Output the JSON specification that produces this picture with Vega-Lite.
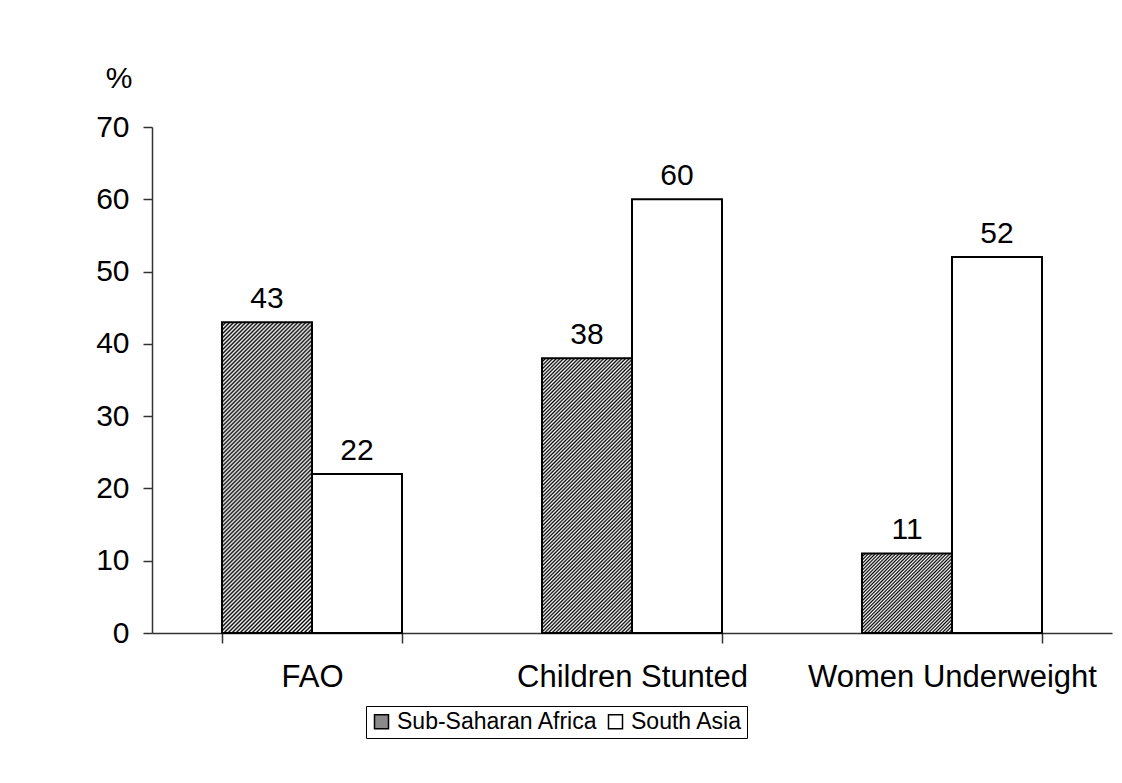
{
  "$schema": "https://vega.github.io/schema/vega-lite/v6.json",
  "width": 960,
  "height": 506,
  "autosize": {"type": "none"},
  "padding": {"left": 152, "top": 127, "right": 10, "bottom": 150},
  "background": "white",
  "config": {"view": {"stroke": null}, "font": "Liberation Sans"},
  "data": {
    "values": [
      {"cat": "FAO", "series": "Sub-Saharan Africa", "value": 43},
      {"cat": "FAO", "series": "South Asia", "value": 22},
      {"cat": "Children Stunted", "series": "Sub-Saharan Africa", "value": 38},
      {"cat": "Children Stunted", "series": "South Asia", "value": 60},
      {"cat": "Women Underweight", "series": "Sub-Saharan Africa", "value": 11},
      {"cat": "Women Underweight", "series": "South Asia", "value": 52}
    ]
  },
  "encoding": {
    "x": {
      "field": "cat", "type": "nominal",
      "sort": ["FAO", "Children Stunted", "Women Underweight"],
      "scale": {"paddingInner": 0.4375, "paddingOuter": 0.21875},
      "axis": {"title": null, "labelAngle": 0, "labelFontSize": 31, "labelLimit": 0, "labelColor": "black", "labelPadding": 19, "tickBand": "extent", "tickSize": 10, "domainColor": "#333", "tickColor": "#333", "domainWidth": 1.5, "tickWidth": 1.5, "labelFont": "Liberation Sans"}
    },
    "xOffset": {
      "field": "series", "type": "nominal",
      "sort": ["Sub-Saharan Africa", "South Asia"],
      "scale": {"paddingInner": 0, "paddingOuter": 0}
    },
    "y": {
      "field": "value", "type": "quantitative",
      "scale": {"domain": [0, 70], "nice": false},
      "axis": {"title": "%", "titleAngle": 0, "titleX": -20, "titleY": -40, "titleAlign": "right", "titleBaseline": "alphabetic", "titleFontSize": 30, "titleFontWeight": "normal", "titleColor": "black", "titleFont": "Liberation Sans", "labelFontSize": 30, "labelColor": "black", "labelPadding": 14, "tickSize": 9, "values": [0, 10, 20, 30, 40, 50, 60, 70], "grid": false, "domainColor": "#333", "tickColor": "#333", "domainWidth": 1.5, "tickWidth": 1.5, "labelFont": "Liberation Sans"}
    }
  },
  "layer": [
    {
      "mark": {"type": "bar", "stroke": "black", "strokeWidth": 2},
      "encoding": {
        "fill": {
          "field": "series", "type": "nominal",
          "scale": {"domain": ["Sub-Saharan Africa", "South Asia"], "range": ["#8a8a8a", "white"]},
          "condition": [
            {"test": "datum.series === 'Sub-Saharan Africa' && datum.cat === 'FAO'", "value": {"gradient": "linear", "x1": 0, "y1": 0, "x2": 0.3445, "y2": 1.1898, "stops": [
{"offset":0,"color":"#000"},{"offset":0.005,"color":"#fff"},{"offset":0.01,"color":"#000"},{"offset":0.015,"color":"#fff"},{"offset":0.02,"color":"#000"},{"offset":0.025,"color":"#fff"},{"offset":0.03,"color":"#000"},{"offset":0.035,"color":"#fff"},{"offset":0.04,"color":"#000"},{"offset":0.045,"color":"#fff"},
{"offset":0.05,"color":"#000"},{"offset":0.055,"color":"#fff"},{"offset":0.06,"color":"#000"},{"offset":0.065,"color":"#fff"},{"offset":0.07,"color":"#000"},{"offset":0.075,"color":"#fff"},{"offset":0.08,"color":"#000"},{"offset":0.085,"color":"#fff"},{"offset":0.09,"color":"#000"},{"offset":0.095,"color":"#fff"},
{"offset":0.1,"color":"#000"},{"offset":0.105,"color":"#fff"},{"offset":0.11,"color":"#000"},{"offset":0.115,"color":"#fff"},{"offset":0.12,"color":"#000"},{"offset":0.125,"color":"#fff"},{"offset":0.13,"color":"#000"},{"offset":0.135,"color":"#fff"},{"offset":0.14,"color":"#000"},{"offset":0.145,"color":"#fff"},
{"offset":0.15,"color":"#000"},{"offset":0.155,"color":"#fff"},{"offset":0.16,"color":"#000"},{"offset":0.165,"color":"#fff"},{"offset":0.17,"color":"#000"},{"offset":0.175,"color":"#fff"},{"offset":0.18,"color":"#000"},{"offset":0.185,"color":"#fff"},{"offset":0.19,"color":"#000"},{"offset":0.195,"color":"#fff"},
{"offset":0.2,"color":"#000"},{"offset":0.205,"color":"#fff"},{"offset":0.21,"color":"#000"},{"offset":0.215,"color":"#fff"},{"offset":0.22,"color":"#000"},{"offset":0.225,"color":"#fff"},{"offset":0.23,"color":"#000"},{"offset":0.235,"color":"#fff"},{"offset":0.24,"color":"#000"},{"offset":0.245,"color":"#fff"},
{"offset":0.25,"color":"#000"},{"offset":0.255,"color":"#fff"},{"offset":0.26,"color":"#000"},{"offset":0.265,"color":"#fff"},{"offset":0.27,"color":"#000"},{"offset":0.275,"color":"#fff"},{"offset":0.28,"color":"#000"},{"offset":0.285,"color":"#fff"},{"offset":0.29,"color":"#000"},{"offset":0.295,"color":"#fff"},
{"offset":0.3,"color":"#000"},{"offset":0.305,"color":"#fff"},{"offset":0.31,"color":"#000"},{"offset":0.315,"color":"#fff"},{"offset":0.32,"color":"#000"},{"offset":0.325,"color":"#fff"},{"offset":0.33,"color":"#000"},{"offset":0.335,"color":"#fff"},{"offset":0.34,"color":"#000"},{"offset":0.345,"color":"#fff"},
{"offset":0.35,"color":"#000"},{"offset":0.355,"color":"#fff"},{"offset":0.36,"color":"#000"},{"offset":0.365,"color":"#fff"},{"offset":0.37,"color":"#000"},{"offset":0.375,"color":"#fff"},{"offset":0.38,"color":"#000"},{"offset":0.385,"color":"#fff"},{"offset":0.39,"color":"#000"},{"offset":0.395,"color":"#fff"},
{"offset":0.4,"color":"#000"},{"offset":0.405,"color":"#fff"},{"offset":0.41,"color":"#000"},{"offset":0.415,"color":"#fff"},{"offset":0.42,"color":"#000"},{"offset":0.425,"color":"#fff"},{"offset":0.43,"color":"#000"},{"offset":0.435,"color":"#fff"},{"offset":0.44,"color":"#000"},{"offset":0.445,"color":"#fff"},
{"offset":0.45,"color":"#000"},{"offset":0.455,"color":"#fff"},{"offset":0.46,"color":"#000"},{"offset":0.465,"color":"#fff"},{"offset":0.47,"color":"#000"},{"offset":0.475,"color":"#fff"},{"offset":0.48,"color":"#000"},{"offset":0.485,"color":"#fff"},{"offset":0.49,"color":"#000"},{"offset":0.495,"color":"#fff"},
{"offset":0.5,"color":"#000"},{"offset":0.505,"color":"#fff"},{"offset":0.51,"color":"#000"},{"offset":0.515,"color":"#fff"},{"offset":0.52,"color":"#000"},{"offset":0.525,"color":"#fff"},{"offset":0.53,"color":"#000"},{"offset":0.535,"color":"#fff"},{"offset":0.54,"color":"#000"},{"offset":0.545,"color":"#fff"},
{"offset":0.55,"color":"#000"},{"offset":0.555,"color":"#fff"},{"offset":0.56,"color":"#000"},{"offset":0.565,"color":"#fff"},{"offset":0.57,"color":"#000"},{"offset":0.575,"color":"#fff"},{"offset":0.58,"color":"#000"},{"offset":0.585,"color":"#fff"},{"offset":0.59,"color":"#000"},{"offset":0.595,"color":"#fff"},
{"offset":0.6,"color":"#000"},{"offset":0.605,"color":"#fff"},{"offset":0.61,"color":"#000"},{"offset":0.615,"color":"#fff"},{"offset":0.62,"color":"#000"},{"offset":0.625,"color":"#fff"},{"offset":0.63,"color":"#000"},{"offset":0.635,"color":"#fff"},{"offset":0.64,"color":"#000"},{"offset":0.645,"color":"#fff"},
{"offset":0.65,"color":"#000"},{"offset":0.655,"color":"#fff"},{"offset":0.66,"color":"#000"},{"offset":0.665,"color":"#fff"},{"offset":0.67,"color":"#000"},{"offset":0.675,"color":"#fff"},{"offset":0.68,"color":"#000"},{"offset":0.685,"color":"#fff"},{"offset":0.69,"color":"#000"},{"offset":0.695,"color":"#fff"},
{"offset":0.7,"color":"#000"},{"offset":0.705,"color":"#fff"},{"offset":0.71,"color":"#000"},{"offset":0.715,"color":"#fff"},{"offset":0.72,"color":"#000"},{"offset":0.725,"color":"#fff"},{"offset":0.73,"color":"#000"},{"offset":0.735,"color":"#fff"},{"offset":0.74,"color":"#000"},{"offset":0.745,"color":"#fff"},
{"offset":0.75,"color":"#000"},{"offset":0.755,"color":"#fff"},{"offset":0.76,"color":"#000"},{"offset":0.765,"color":"#fff"},{"offset":0.77,"color":"#000"},{"offset":0.775,"color":"#fff"},{"offset":0.78,"color":"#000"},{"offset":0.785,"color":"#fff"},{"offset":0.79,"color":"#000"},{"offset":0.795,"color":"#fff"},
{"offset":0.8,"color":"#000"},{"offset":0.805,"color":"#fff"},{"offset":0.81,"color":"#000"},{"offset":0.815,"color":"#fff"},{"offset":0.82,"color":"#000"},{"offset":0.825,"color":"#fff"},{"offset":0.83,"color":"#000"},{"offset":0.835,"color":"#fff"},{"offset":0.84,"color":"#000"},{"offset":0.845,"color":"#fff"},
{"offset":0.85,"color":"#000"},{"offset":0.855,"color":"#fff"},{"offset":0.86,"color":"#000"},{"offset":0.865,"color":"#fff"},{"offset":0.87,"color":"#000"},{"offset":0.875,"color":"#fff"},{"offset":0.88,"color":"#000"},{"offset":0.885,"color":"#fff"},{"offset":0.89,"color":"#000"},{"offset":0.895,"color":"#fff"},
{"offset":0.9,"color":"#000"},{"offset":0.905,"color":"#fff"},{"offset":0.91,"color":"#000"},{"offset":0.915,"color":"#fff"},{"offset":0.92,"color":"#000"},{"offset":0.925,"color":"#fff"},{"offset":0.93,"color":"#000"},{"offset":0.935,"color":"#fff"},{"offset":0.94,"color":"#000"},{"offset":0.945,"color":"#fff"},
{"offset":0.95,"color":"#000"},{"offset":0.955,"color":"#fff"},{"offset":0.96,"color":"#000"},{"offset":0.965,"color":"#fff"},{"offset":0.97,"color":"#000"},{"offset":0.975,"color":"#fff"},{"offset":0.98,"color":"#000"},{"offset":0.985,"color":"#fff"},{"offset":0.99,"color":"#000"},{"offset":0.995,"color":"#fff"},
{"offset":1,"color":"#000"}]}},
            {"test": "datum.series === 'Sub-Saharan Africa' && datum.cat === 'Children Stunted'", "value": {"gradient": "linear", "x1": 0, "y1": 0, "x2": 0.3928, "y2": 1.1989, "stops": [
{"offset":0,"color":"#000"},{"offset":0.005,"color":"#fff"},{"offset":0.01,"color":"#000"},{"offset":0.015,"color":"#fff"},{"offset":0.02,"color":"#000"},{"offset":0.025,"color":"#fff"},{"offset":0.03,"color":"#000"},{"offset":0.035,"color":"#fff"},{"offset":0.04,"color":"#000"},{"offset":0.045,"color":"#fff"},
{"offset":0.05,"color":"#000"},{"offset":0.055,"color":"#fff"},{"offset":0.06,"color":"#000"},{"offset":0.065,"color":"#fff"},{"offset":0.07,"color":"#000"},{"offset":0.075,"color":"#fff"},{"offset":0.08,"color":"#000"},{"offset":0.085,"color":"#fff"},{"offset":0.09,"color":"#000"},{"offset":0.095,"color":"#fff"},
{"offset":0.1,"color":"#000"},{"offset":0.105,"color":"#fff"},{"offset":0.11,"color":"#000"},{"offset":0.115,"color":"#fff"},{"offset":0.12,"color":"#000"},{"offset":0.125,"color":"#fff"},{"offset":0.13,"color":"#000"},{"offset":0.135,"color":"#fff"},{"offset":0.14,"color":"#000"},{"offset":0.145,"color":"#fff"},
{"offset":0.15,"color":"#000"},{"offset":0.155,"color":"#fff"},{"offset":0.16,"color":"#000"},{"offset":0.165,"color":"#fff"},{"offset":0.17,"color":"#000"},{"offset":0.175,"color":"#fff"},{"offset":0.18,"color":"#000"},{"offset":0.185,"color":"#fff"},{"offset":0.19,"color":"#000"},{"offset":0.195,"color":"#fff"},
{"offset":0.2,"color":"#000"},{"offset":0.205,"color":"#fff"},{"offset":0.21,"color":"#000"},{"offset":0.215,"color":"#fff"},{"offset":0.22,"color":"#000"},{"offset":0.225,"color":"#fff"},{"offset":0.23,"color":"#000"},{"offset":0.235,"color":"#fff"},{"offset":0.24,"color":"#000"},{"offset":0.245,"color":"#fff"},
{"offset":0.25,"color":"#000"},{"offset":0.255,"color":"#fff"},{"offset":0.26,"color":"#000"},{"offset":0.265,"color":"#fff"},{"offset":0.27,"color":"#000"},{"offset":0.275,"color":"#fff"},{"offset":0.28,"color":"#000"},{"offset":0.285,"color":"#fff"},{"offset":0.29,"color":"#000"},{"offset":0.295,"color":"#fff"},
{"offset":0.3,"color":"#000"},{"offset":0.305,"color":"#fff"},{"offset":0.31,"color":"#000"},{"offset":0.315,"color":"#fff"},{"offset":0.32,"color":"#000"},{"offset":0.325,"color":"#fff"},{"offset":0.33,"color":"#000"},{"offset":0.335,"color":"#fff"},{"offset":0.34,"color":"#000"},{"offset":0.345,"color":"#fff"},
{"offset":0.35,"color":"#000"},{"offset":0.355,"color":"#fff"},{"offset":0.36,"color":"#000"},{"offset":0.365,"color":"#fff"},{"offset":0.37,"color":"#000"},{"offset":0.375,"color":"#fff"},{"offset":0.38,"color":"#000"},{"offset":0.385,"color":"#fff"},{"offset":0.39,"color":"#000"},{"offset":0.395,"color":"#fff"},
{"offset":0.4,"color":"#000"},{"offset":0.405,"color":"#fff"},{"offset":0.41,"color":"#000"},{"offset":0.415,"color":"#fff"},{"offset":0.42,"color":"#000"},{"offset":0.425,"color":"#fff"},{"offset":0.43,"color":"#000"},{"offset":0.435,"color":"#fff"},{"offset":0.44,"color":"#000"},{"offset":0.445,"color":"#fff"},
{"offset":0.45,"color":"#000"},{"offset":0.455,"color":"#fff"},{"offset":0.46,"color":"#000"},{"offset":0.465,"color":"#fff"},{"offset":0.47,"color":"#000"},{"offset":0.475,"color":"#fff"},{"offset":0.48,"color":"#000"},{"offset":0.485,"color":"#fff"},{"offset":0.49,"color":"#000"},{"offset":0.495,"color":"#fff"},
{"offset":0.5,"color":"#000"},{"offset":0.505,"color":"#fff"},{"offset":0.51,"color":"#000"},{"offset":0.515,"color":"#fff"},{"offset":0.52,"color":"#000"},{"offset":0.525,"color":"#fff"},{"offset":0.53,"color":"#000"},{"offset":0.535,"color":"#fff"},{"offset":0.54,"color":"#000"},{"offset":0.545,"color":"#fff"},
{"offset":0.55,"color":"#000"},{"offset":0.555,"color":"#fff"},{"offset":0.56,"color":"#000"},{"offset":0.565,"color":"#fff"},{"offset":0.57,"color":"#000"},{"offset":0.575,"color":"#fff"},{"offset":0.58,"color":"#000"},{"offset":0.585,"color":"#fff"},{"offset":0.59,"color":"#000"},{"offset":0.595,"color":"#fff"},
{"offset":0.6,"color":"#000"},{"offset":0.605,"color":"#fff"},{"offset":0.61,"color":"#000"},{"offset":0.615,"color":"#fff"},{"offset":0.62,"color":"#000"},{"offset":0.625,"color":"#fff"},{"offset":0.63,"color":"#000"},{"offset":0.635,"color":"#fff"},{"offset":0.64,"color":"#000"},{"offset":0.645,"color":"#fff"},
{"offset":0.65,"color":"#000"},{"offset":0.655,"color":"#fff"},{"offset":0.66,"color":"#000"},{"offset":0.665,"color":"#fff"},{"offset":0.67,"color":"#000"},{"offset":0.675,"color":"#fff"},{"offset":0.68,"color":"#000"},{"offset":0.685,"color":"#fff"},{"offset":0.69,"color":"#000"},{"offset":0.695,"color":"#fff"},
{"offset":0.7,"color":"#000"},{"offset":0.705,"color":"#fff"},{"offset":0.71,"color":"#000"},{"offset":0.715,"color":"#fff"},{"offset":0.72,"color":"#000"},{"offset":0.725,"color":"#fff"},{"offset":0.73,"color":"#000"},{"offset":0.735,"color":"#fff"},{"offset":0.74,"color":"#000"},{"offset":0.745,"color":"#fff"},
{"offset":0.75,"color":"#000"},{"offset":0.755,"color":"#fff"},{"offset":0.76,"color":"#000"},{"offset":0.765,"color":"#fff"},{"offset":0.77,"color":"#000"},{"offset":0.775,"color":"#fff"},{"offset":0.78,"color":"#000"},{"offset":0.785,"color":"#fff"},{"offset":0.79,"color":"#000"},{"offset":0.795,"color":"#fff"},
{"offset":0.8,"color":"#000"},{"offset":0.805,"color":"#fff"},{"offset":0.81,"color":"#000"},{"offset":0.815,"color":"#fff"},{"offset":0.82,"color":"#000"},{"offset":0.825,"color":"#fff"},{"offset":0.83,"color":"#000"},{"offset":0.835,"color":"#fff"},{"offset":0.84,"color":"#000"},{"offset":0.845,"color":"#fff"},
{"offset":0.85,"color":"#000"},{"offset":0.855,"color":"#fff"},{"offset":0.86,"color":"#000"},{"offset":0.865,"color":"#fff"},{"offset":0.87,"color":"#000"},{"offset":0.875,"color":"#fff"},{"offset":0.88,"color":"#000"},{"offset":0.885,"color":"#fff"},{"offset":0.89,"color":"#000"},{"offset":0.895,"color":"#fff"},
{"offset":0.9,"color":"#000"},{"offset":0.905,"color":"#fff"},{"offset":0.91,"color":"#000"},{"offset":0.915,"color":"#fff"},{"offset":0.92,"color":"#000"},{"offset":0.925,"color":"#fff"},{"offset":0.93,"color":"#000"},{"offset":0.935,"color":"#fff"},{"offset":0.94,"color":"#000"},{"offset":0.945,"color":"#fff"},
{"offset":0.95,"color":"#000"},{"offset":0.955,"color":"#fff"},{"offset":0.96,"color":"#000"},{"offset":0.965,"color":"#fff"},{"offset":0.97,"color":"#000"},{"offset":0.975,"color":"#fff"},{"offset":0.98,"color":"#000"},{"offset":0.985,"color":"#fff"},{"offset":0.99,"color":"#000"},{"offset":0.995,"color":"#fff"},
{"offset":1,"color":"#000"}]}},
            {"test": "datum.series === 'Sub-Saharan Africa' && datum.cat === 'Women Underweight'", "value": {"gradient": "linear", "x1": 0, "y1": 0, "x2": 1.0579, "y2": 0.9345, "stops": [
{"offset":0,"color":"#000"},{"offset":0.01,"color":"#fff"},{"offset":0.02,"color":"#000"},{"offset":0.03,"color":"#fff"},{"offset":0.04,"color":"#000"},{"offset":0.05,"color":"#fff"},{"offset":0.06,"color":"#000"},{"offset":0.07,"color":"#fff"},{"offset":0.08,"color":"#000"},{"offset":0.09,"color":"#fff"},
{"offset":0.1,"color":"#000"},{"offset":0.11,"color":"#fff"},{"offset":0.12,"color":"#000"},{"offset":0.13,"color":"#fff"},{"offset":0.14,"color":"#000"},{"offset":0.15,"color":"#fff"},{"offset":0.16,"color":"#000"},{"offset":0.17,"color":"#fff"},{"offset":0.18,"color":"#000"},{"offset":0.19,"color":"#fff"},
{"offset":0.2,"color":"#000"},{"offset":0.21,"color":"#fff"},{"offset":0.22,"color":"#000"},{"offset":0.23,"color":"#fff"},{"offset":0.24,"color":"#000"},{"offset":0.25,"color":"#fff"},{"offset":0.26,"color":"#000"},{"offset":0.27,"color":"#fff"},{"offset":0.28,"color":"#000"},{"offset":0.29,"color":"#fff"},
{"offset":0.3,"color":"#000"},{"offset":0.31,"color":"#fff"},{"offset":0.32,"color":"#000"},{"offset":0.33,"color":"#fff"},{"offset":0.34,"color":"#000"},{"offset":0.35,"color":"#fff"},{"offset":0.36,"color":"#000"},{"offset":0.37,"color":"#fff"},{"offset":0.38,"color":"#000"},{"offset":0.39,"color":"#fff"},
{"offset":0.4,"color":"#000"},{"offset":0.41,"color":"#fff"},{"offset":0.42,"color":"#000"},{"offset":0.43,"color":"#fff"},{"offset":0.44,"color":"#000"},{"offset":0.45,"color":"#fff"},{"offset":0.46,"color":"#000"},{"offset":0.47,"color":"#fff"},{"offset":0.48,"color":"#000"},{"offset":0.49,"color":"#fff"},
{"offset":0.5,"color":"#000"},{"offset":0.51,"color":"#fff"},{"offset":0.52,"color":"#000"},{"offset":0.53,"color":"#fff"},{"offset":0.54,"color":"#000"},{"offset":0.55,"color":"#fff"},{"offset":0.56,"color":"#000"},{"offset":0.57,"color":"#fff"},{"offset":0.58,"color":"#000"},{"offset":0.59,"color":"#fff"},
{"offset":0.6,"color":"#000"},{"offset":0.61,"color":"#fff"},{"offset":0.62,"color":"#000"},{"offset":0.63,"color":"#fff"},{"offset":0.64,"color":"#000"},{"offset":0.65,"color":"#fff"},{"offset":0.66,"color":"#000"},{"offset":0.67,"color":"#fff"},{"offset":0.68,"color":"#000"},{"offset":0.69,"color":"#fff"},
{"offset":0.7,"color":"#000"},{"offset":0.71,"color":"#fff"},{"offset":0.72,"color":"#000"},{"offset":0.73,"color":"#fff"},{"offset":0.74,"color":"#000"},{"offset":0.75,"color":"#fff"},{"offset":0.76,"color":"#000"},{"offset":0.77,"color":"#fff"},{"offset":0.78,"color":"#000"},{"offset":0.79,"color":"#fff"},
{"offset":0.8,"color":"#000"},{"offset":0.81,"color":"#fff"},{"offset":0.82,"color":"#000"},{"offset":0.83,"color":"#fff"},{"offset":0.84,"color":"#000"},{"offset":0.85,"color":"#fff"},{"offset":0.86,"color":"#000"},{"offset":0.87,"color":"#fff"},{"offset":0.88,"color":"#000"},{"offset":0.89,"color":"#fff"},
{"offset":0.9,"color":"#000"},{"offset":0.91,"color":"#fff"},{"offset":0.92,"color":"#000"},{"offset":0.93,"color":"#fff"},{"offset":0.94,"color":"#000"},{"offset":0.95,"color":"#fff"},{"offset":0.96,"color":"#000"},{"offset":0.97,"color":"#fff"},{"offset":0.98,"color":"#000"},{"offset":0.99,"color":"#fff"},
{"offset":1,"color":"#000"}]}}
          ],
          "legend": {
            "orient": "none", "legendX": 214, "legendY": 579, "direction": "horizontal", "title": null,
            "labelFontSize": 23, "labelLimit": 0, "labelColor": "black", "labelFont": "Liberation Sans",
            "symbolType": "square", "symbolSize": 196, "symbolStrokeColor": "black", "symbolStrokeWidth": 1.5,
            "strokeColor": "black", "padding": 4, "columnPadding": 6, "labelOffset": 4
          }
        }
      }
    },
    {
      "mark": {"type": "text", "baseline": "alphabetic", "dy": -14, "fontSize": 30, "font": "Liberation Sans", "color": "black"},
      "encoding": {"text": {"field": "value", "type": "quantitative"}}
    }
  ]
}
